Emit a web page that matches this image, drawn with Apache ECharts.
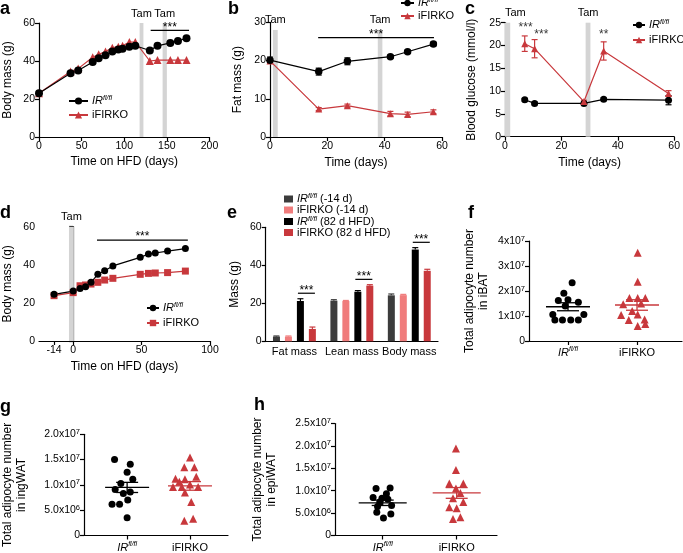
<!DOCTYPE html>
<html><head><meta charset="utf-8">
<script src="https://cdn.jsdelivr.net/npm/echarts@6/dist/echarts.min.js"></script>
<style>html,body{margin:0;padding:0;background:#fff}#c{width:683px;height:553px}</style>
</head><body><div id="c"></div>
<script>
// ---------- data ----------
// a
const aDays = [0,37,46,63,70,78,86,93,98,106,113,130,139,154,163,173];
const aIR   = [23,33.5,35,39.5,41.5,43,45,46,46.5,47.5,48,45.5,48,49.5,50.5,52];
const aKO   = [23,34.5,36,42,43.5,45,47,47.5,48,50,50,40,40.5,40.5,40.5,40.5];
const aTam  = [[118,122.5,60],[145,150,60]];
const aSig  = [[131,176,56.1,'***']];
// b
const bDays = [0,17,27,42,48,57];
const bIR = [20.1,17.1,19.8,21,22.3,24.3];
const bIRerr = [0.8,0.9,0.9,0.4,0.4,0.5];
const bKO = [19.9,7.3,8.2,6.1,5.9,6.6];
const bKOerr = [0.5,0.4,0.4,0.6,0.6,0.5];
const bTam = [[1,2.7,28],[37.6,39.2,28]];
const bSig = [[16.8,57.2,26,'***']];
// c
const cDays = [7,10.5,28,35,58];
const cIR = [8.1,7.3,7.3,8.2,8.0];
const cIRerr = [0.3,0.3,0.3,0.3,1.0];
const cKO = [20.4,19.3,7.7,18.8,9.5];
const cKOerr = [1.7,2.0,0.3,2.0,0.6];
const cTam = [[0,1.85,25],[28.6,30.3,25]];
const cStars = [[7.3,23.9,'***'],[12.9,22.4,'***'],[35,22.4,'**']];
// d
const dDays = [-14,0,5,9,13,18,23,29,49,55,60,69,82];
const dIR = [24.5,26.2,27.6,28.5,30.8,35,36.9,39.4,43.9,45.7,46.2,47.2,48.5];
const dKO = [23.8,25.4,29,29.4,29.9,30.8,32,32.9,35,35.5,35.7,35.9,36.7];
const dTam = [[-3.1,0.5,60]];
const dSig = [[17.4,83.8,53,'***']];
const dTicks = [-14,0,50,100];
// e
const eCats = ['Fat mass','Lean mass','Body mass'];
const eIR14 = [2.5,21.4,24.2], eIR14err = [0.3,0.5,0.7];
const eKO14 = [2.5,21.2,24.3], eKO14err = [0.3,0.3,0.4];
const eIR82 = [21.2,26.1,48.3], eIR82err = [1.2,0.6,1.0];
const eKO82 = [6.5,29.3,37.1], eKO82err = [1.0,0.5,0.8];
const eSig = [25.3,32.6,52.1];
// f (x10^7)
const fIRx = [1.06,0.94,0.86,1.0,1.15,0.96,0.78,1.23,0.81,0.92,1.04,1.15];
const fIRy = [2.33,1.91,1.62,1.65,1.55,1.40,1.06,1.06,0.84,0.84,0.84,0.84];
const fKOx = [2.01,2.01,1.89,2.01,2.12,1.80,2.06,1.93,1.77,2.01,1.88,2.11,2.01,2.12];
const fKOy = [3.53,2.37,1.72,1.72,1.72,1.47,1.50,1.20,1.04,1.06,0.84,0.86,0.60,0.68];
const fMean = [[1,1.37,0.16],[2,1.44,0.21]];
// g (x10^7)
const gIRx = [0.80,1.05,1.0,1.09,0.90,0.81,0.94,1.05,0.76,0.88,1.01,1.0];
const gIRy = [1.50,1.41,1.25,1.11,1.03,0.91,0.83,0.86,0.62,0.62,0.70,0.35];
const gKOx = [2.0,1.91,2.07,2.10,1.77,1.92,1.83,2.0,1.73,1.87,2.13,1.92,2.02,1.91,2.05];
const gKOy = [1.54,1.35,1.35,1.16,1.12,1.11,1.06,1.01,0.96,0.96,0.96,0.85,0.66,0.29,0.33];
const gMean = [[1,0.95,0.10],[2,0.98,0.085]];
// h (x10^7)
const hIRx = [0.91,1.10,1.05,0.87,0.99,1.07,0.96,1.12,0.93,0.92,1.11,1.01];
const hIRy = [1.05,1.06,0.93,0.85,0.83,0.81,0.75,0.67,0.65,0.52,0.48,0.39];
const hKOx = [1.99,1.99,1.90,2.09,1.99,2.05,1.95,2.09,1.90,2.0,1.95,2.05];
const hKOy = [1.94,1.46,1.16,1.16,1.05,0.95,0.83,0.75,0.63,0.61,0.37,0.41];
const hMean = [[1,0.73,0.06],[2,0.95,0.12]];

// ---------- style ----------
const F = '"Liberation Sans", Arial, Helvetica, sans-serif';
const RED = '#c8383c', PINK = '#f07c7c', DARK = '#3c3c3c', BAND = '#d4d4d4';
const STAR = 12;
const zip = (xs, ys) => xs.map((x, i) => [x, ys[i]]);
const errs = (xs, ys, es) => xs.map((x, i) => [x, ys[i] - es[i], ys[i] + es[i]]);

function errItem(cap) {
  return function (params, api) {
    const x = api.value(0), lo = api.value(1), hi = api.value(2);
    const a = api.coord([x, lo]), b = api.coord([x, hi]);
    const st = { stroke: api.visual('color'), lineWidth: 1.2 };
    return { type: 'group', children: [
      { type: 'line', shape: { x1: a[0], y1: a[1], x2: b[0], y2: b[1] }, style: st },
      { type: 'line', shape: { x1: a[0] - cap, y1: a[1], x2: a[0] + cap, y2: a[1] }, style: st },
      { type: 'line', shape: { x1: b[0] - cap, y1: b[1], x2: b[0] + cap, y2: b[1] }, style: st }
    ]};
  };
}
function bandItem(minX) {
  return function (params, api) {
    const x1 = api.value(0), x2 = api.value(1), top = api.value(2);
    const p1 = api.coord([x1, top]), p2 = api.coord([x2, 0]);
    const left = x1 <= minX;
    return { type: 'group', children: [
      { type: 'rect', shape: { x: p1[0], y: p1[1], width: p2[0] - p1[0], height: p2[1] - p1[1] }, style: { fill: BAND } },
      { type: 'text', style: { text: 'Tam', x: left ? p1[0] : (p1[0] + p2[0]) / 2, y: p1[1] - 4,
        align: left ? 'left' : 'center', verticalAlign: 'bottom', fontSize: 11, fontFamily: F, fill: '#000' } }
    ]};
  };
}
function sigItem(list) {
  return function (params, api) {
    const d = list[params.dataIndex];
    const a = api.coord([d[0], d[2]]), b = api.coord([d[1], d[2]]);
    return { type: 'group', children: [
      { type: 'line', shape: { x1: a[0], y1: a[1], x2: b[0], y2: b[1] }, style: { stroke: '#000', lineWidth: 1.2 } },
      { type: 'text', style: { text: d[3], x: (a[0] + b[0]) / 2, y: a[1] - 3, align: 'center', verticalAlign: 'middle',
        fontSize: STAR, fontFamily: F, fill: '#000' } }
    ]};
  };
}
function meanItem(hw, sw) {
  return function (params, api) {
    const x = api.value(0), m = api.value(1), s = api.value(2);
    const pm = api.coord([x, m]), pt = api.coord([x, m + s]), pb = api.coord([x, m - s]);
    const st = { stroke: api.visual('color'), lineWidth: 1.3 };
    return { type: 'group', children: [
      { type: 'line', shape: { x1: pm[0] - hw, y1: pm[1], x2: pm[0] + hw, y2: pm[1] }, style: st },
      { type: 'line', shape: { x1: pt[0], y1: pt[1], x2: pb[0], y2: pb[1] }, style: st },
      { type: 'line', shape: { x1: pt[0] - sw, y1: pt[1], x2: pt[0] + sw, y2: pt[1] }, style: st },
      { type: 'line', shape: { x1: pb[0] - sw, y1: pb[1], x2: pb[0] + sw, y2: pb[1] }, style: st }
    ]};
  };
}
// bar error bars / significance in e
const eOff = k => (k - 1.5) * 12;
function eErrItem(params, api) {
  const c = api.value(0), lo = api.value(1), hi = api.value(2), k = api.value(3);
  const a = api.coord([c, lo]), b = api.coord([c, hi]);
  const x = a[0] + eOff(k);
  const st = { stroke: api.visual('color'), lineWidth: 1.2 };
  return { type: 'group', children: [
    { type: 'line', shape: { x1: x, y1: a[1], x2: x, y2: b[1] }, style: st },
    { type: 'line', shape: { x1: x - 3, y1: b[1], x2: x + 3, y2: b[1] }, style: st }
  ]};
}
function eSigItem(params, api) {
  const c = api.value(0), y = api.value(1);
  const p = api.coord([c, y]);
  const x1 = p[0] + eOff(2) - 2.5, x2 = p[0] + eOff(3) + 2.5;
  return { type: 'group', children: [
    { type: 'line', shape: { x1: x1, y1: p[1], x2: x2, y2: p[1] }, style: { stroke: '#000', lineWidth: 1.2 } },
    { type: 'text', style: { text: '***', x: (x1 + x2) / 2, y: p[1] - 3, align: 'center', verticalAlign: 'middle', fontSize: STAR, fontFamily: F, fill: '#000' } }
  ]};
}

const lineAx = { lineStyle: { color: '#000', width: 1.2 } };
const tickAx = { length: 4, lineStyle: { color: '#000', width: 1.2 } };
const richSup = {
  n: { fontSize: 10.5, fontFamily: F, color: '#000', lineHeight: 13 },
  i: { fontSize: 11, fontFamily: F, color: '#000', fontStyle: 'italic', lineHeight: 14 },
  s: { fontSize: 7.5, fontFamily: F, color: '#000', verticalAlign: 'top', lineHeight: 8 },
  si: { fontSize: 7, fontFamily: F, color: '#000', fontStyle: 'italic', verticalAlign: 'top', lineHeight: 8 },
  t: { fontSize: 11, fontFamily: F, color: '#000', lineHeight: 14 }
};
function xVal(gi, min, max, interval, name, gap, extra) {
  return Object.assign({ type: 'value', gridIndex: gi, min, max, interval, name, nameLocation: 'middle', nameGap: gap,
    nameTextStyle: { fontSize: 12, fontFamily: F, color: '#000' },
    axisLine: lineAx, axisTick: tickAx, splitLine: { show: false },
    axisLabel: { fontSize: 10.5, fontFamily: F, color: '#000', margin: 4 } }, extra || {});
}
function yVal(gi, min, max, interval, name, gap, extra) {
  return Object.assign({ type: 'value', gridIndex: gi, min, max, interval, name, nameLocation: 'middle', nameGap: gap,
    nameTextStyle: { fontSize: 12, fontFamily: F, color: '#000', lineHeight: 14 },
    axisLine: { show: true, lineStyle: { color: '#000', width: 1.2 } }, axisTick: { show: true, length: 4, lineStyle: { color: '#000', width: 1.2 } },
    splitLine: { show: false },
    axisLabel: { fontSize: 10.5, fontFamily: F, color: '#000', margin: 4 } }, extra || {});
}
const supFmt7 = v => v === 0 ? '{n|0}' : '{n|' + v + 'x10}{s|7}';
const supFmt = v => v === 0 ? '{n|0}' : (v < 1 ? '{n|' + (v * 10).toFixed(1) + 'x10}{s|6}' : '{n|' + v.toFixed(1) + 'x10}{s|7}');
const catFmt = v => v === 1 ? '{i|IR}{si|fl/fl}' : '{t|iFIRKO}';

const legendNames = {
  aIR: '{i|IR}{si|fl/fl}', aKO: '{t|iFIRKO}', bIR: '{i|IR}{si|fl/fl}', bKO: '{t|iFIRKO}',
  cIR: '{i|IR}{si|fl/fl}', cKO: '{t|iFIRKO}', dIR: '{i|IR}{si|fl/fl}', dKO: '{t|iFIRKO}',
  eIR14: '{i|IR}{si|fl/fl}{t| (-14 d)}', eKO14: '{t|iFIRKO (-14 d)}',
  eIR82: '{i|IR}{si|fl/fl}{t| (82 d HFD)}', eKO82: '{t|iFIRKO (82 d HFD)}'
};
const legRich = {
  i: { fontSize: 11, fontFamily: F, color: '#000', fontStyle: 'italic', lineHeight: 12 },
  si: { fontSize: 7, fontFamily: F, color: '#000', fontStyle: 'italic', verticalAlign: 'top', lineHeight: 7 },
  t: { fontSize: 11, fontFamily: F, color: '#000', lineHeight: 12 }
};
function leg(names, left, top, w, h, gap, extra) {
  return Object.assign({ data: names, left, top, orient: 'vertical', itemWidth: w, itemHeight: h, itemGap: gap,
    padding: 0, itemStyle: { borderWidth: 0 }, formatter: n => legendNames[n], textStyle: { rich: legRich, padding: [0, 0, 0, -1] } }, extra || {});
}

function lineS(name, xi, data, color, symbol, size) {
  return { name, type: 'line', xAxisIndex: xi, yAxisIndex: xi, data, color, symbol, symbolSize: size,
    lineStyle: { width: 1.2, color }, itemStyle: { color }, z: 4, animation: false };
}
function errS(xi, data, color, cap) {
  return { type: 'custom', xAxisIndex: xi, yAxisIndex: xi, data, itemStyle: { color }, renderItem: errItem(cap),
    encode: { x: 0, y: [1, 2] }, z: 3, animation: false, silent: true };
}
function bandS(xi, data, minX) {
  return { type: 'custom', xAxisIndex: xi, yAxisIndex: xi, data, renderItem: bandItem(minX),
    encode: { x: [0, 1], y: 2 }, z: 1, animation: false, silent: true, clip: false };
}
function sigS(xi, list) {
  return { type: 'custom', xAxisIndex: xi, yAxisIndex: xi, data: list.map(d => [d[0], d[1], d[2]]), renderItem: sigItem(list),
    encode: { x: [0, 1], y: 2 }, z: 2, animation: false, silent: true, clip: false };
}
function scatS(xi, xs, ys, color, symbol, size) {
  return { type: 'scatter', xAxisIndex: xi, yAxisIndex: xi, data: zip(xs, ys), symbol, symbolSize: size,
    itemStyle: { color, opacity: 1 }, z: 3, animation: false };
}
function meanS(xi, data, color, hw, sw) {
  return { type: 'custom', xAxisIndex: xi, yAxisIndex: xi, data, itemStyle: { color }, renderItem: meanItem(hw, sw),
    encode: { x: 0, y: 1 }, z: 4, animation: false, silent: true };
}

const chart = echarts.init(document.getElementById('c'), null, { renderer: 'canvas' });
const series = [
  // a (axis 0)
  bandS(0, aTam, 0), sigS(0, aSig),
  lineS('aKO', 0, zip(aDays, aKO), RED, 'triangle', 8),
  lineS('aIR', 0, zip(aDays, aIR), '#000', 'circle', 8),
  // b (axis 1)
  bandS(1, bTam, 0), sigS(1, bSig),
  errS(1, errs(bDays, bKO, bKOerr), RED, 3), errS(1, errs(bDays, bIR, bIRerr), '#000', 3),
  lineS('bKO', 1, zip(bDays, bKO), RED, 'triangle', 7),
  lineS('bIR', 1, zip(bDays, bIR), '#000', 'circle', 7.5),
  // c (axis 2)
  bandS(2, cTam, 0),
  errS(2, errs(cDays, cKO, cKOerr), RED, 3), errS(2, errs(cDays, cIR, cIRerr), '#000', 3),
  lineS('cIR', 2, zip(cDays, cIR), '#000', 'circle', 7),
  lineS('cKO', 2, zip(cDays, cKO), RED, 'triangle', 7),
  { type: 'scatter', xAxisIndex: 2, yAxisIndex: 2, data: cStars.map(s => [s[0], s[1]]), symbolSize: 0, animation: false, silent: true,
    label: { show: true, position: 'inside', formatter: p => cStars[p.dataIndex][2], fontSize: STAR, fontFamily: F, color: '#000' } },
  // d (axis 3)
  bandS(3, dTam, -25), sigS(3, dSig),
  lineS('dKO', 3, zip(dDays, dKO), RED, 'rect', 7),
  lineS('dIR', 3, zip(dDays, dIR), '#000', 'circle', 7),
  // e (axis 4)
  { name: 'eIR14', type: 'bar', xAxisIndex: 4, yAxisIndex: 4, data: eIR14, color: DARK, barWidth: 7, barGap: '71%', animation: false },
  { name: 'eKO14', type: 'bar', xAxisIndex: 4, yAxisIndex: 4, data: eKO14, color: PINK, barWidth: 7, barGap: '71%', animation: false },
  { name: 'eIR82', type: 'bar', xAxisIndex: 4, yAxisIndex: 4, data: eIR82, color: '#000', barWidth: 7, barGap: '71%', animation: false },
  { name: 'eKO82', type: 'bar', xAxisIndex: 4, yAxisIndex: 4, data: eKO82, color: RED, barWidth: 7, barGap: '71%', animation: false },
  { type: 'custom', xAxisIndex: 4, yAxisIndex: 4, itemStyle: { color: DARK }, renderItem: eErrItem, encode: { x: 0, y: [1, 2] }, animation: false, silent: true, z: 3,
    data: eIR14.map((v, i) => [i, v, v + eIR14err[i], 0]) },
  { type: 'custom', xAxisIndex: 4, yAxisIndex: 4, itemStyle: { color: PINK }, renderItem: eErrItem, encode: { x: 0, y: [1, 2] }, animation: false, silent: true, z: 3,
    data: eKO14.map((v, i) => [i, v, v + eKO14err[i], 1]) },
  { type: 'custom', xAxisIndex: 4, yAxisIndex: 4, itemStyle: { color: '#000' }, renderItem: eErrItem, encode: { x: 0, y: [1, 2] }, animation: false, silent: true, z: 3,
    data: eIR82.map((v, i) => [i, v, v + eIR82err[i], 2]) },
  { type: 'custom', xAxisIndex: 4, yAxisIndex: 4, itemStyle: { color: RED }, renderItem: eErrItem, encode: { x: 0, y: [1, 2] }, animation: false, silent: true, z: 3,
    data: eKO82.map((v, i) => [i, v, v + eKO82err[i], 3]) },
  { type: 'custom', xAxisIndex: 4, yAxisIndex: 4, renderItem: eSigItem, encode: { x: 0, y: 1 }, animation: false, silent: true, z: 3,
    data: eSig.map((v, i) => [i, v]) },
  // f (axis 5)
  scatS(5, fIRx, fIRy, '#000', 'circle', 7), scatS(5, fKOx, fKOy, RED, 'triangle', 8),
  meanS(5, [fMean[0]], '#000', 22, 11), meanS(5, [fMean[1]], RED, 22, 11),
  // g (axis 6)
  scatS(6, gIRx, gIRy, '#000', 'circle', 7), scatS(6, gKOx, gKOy, RED, 'triangle', 8),
  meanS(6, [gMean[0]], '#000', 22, 11), meanS(6, [gMean[1]], RED, 22, 11),
  // h (axis 7)
  scatS(7, hIRx, hIRy, '#000', 'circle', 7), scatS(7, hKOx, hKOy, RED, 'triangle', 8),
  meanS(7, [hMean[0]], '#000', 24, 11), meanS(7, [hMean[1]], RED, 24, 11)
];

const letters = [['a',0,0],['b',228,0],['c',465,0],['d',0,204],['e',227,204],['f',468,204],['g',0,398],['h',254,396]];

chart.setOption({
  backgroundColor: '#fff',
  animation: false,
  textStyle: { fontFamily: F },
  grid: [
    { left: 38, top: 23, width: 171.5, height: 114 },
    { left: 270, top: 22.3, width: 172, height: 114.7 },
    { left: 505, top: 22.7, width: 172.7, height: 114 },
    { left: 38, top: 226.7, width: 172, height: 114.3 },
    { left: 265.7, top: 227.3, width: 172.3, height: 114 },
    { left: 529, top: 241, width: 153, height: 100 },
    { left: 77.7, top: 434.3, width: 150.3, height: 102.4 },
    { left: 335, top: 423.5, width: 162, height: 113.5 }
  ],
  xAxis: [
    xVal(0, 0, 200, 50, 'Time on HFD (days)', 19),
    xVal(1, 0, 60, 20, 'Time (days)', 20),
    xVal(2, 0, 60, 20, 'Time (days)', 20),
    xVal(3, -25, 100, 25, 'Time on HFD (days)', 20, {
      axisLabel: { customValues: dTicks, fontSize: 10.5, fontFamily: F, color: '#000', margin: 4 },
      axisTick: { customValues: dTicks, length: 4, lineStyle: { color: '#000', width: 1.2 } } }),
    { type: 'category', gridIndex: 4, data: eCats, axisLine: lineAx, axisTick: { show: false },
      axisLabel: { fontSize: 11, fontFamily: F, color: '#000', margin: 5, interval: 0 } },
    xVal(5, 0.435, 2.652, 1, '', 0, { axisLabel: { customValues: [1, 2], formatter: catFmt, rich: richSup, margin: 5 },
      axisTick: { customValues: [1, 2], length: 4, lineStyle: { color: '#000', width: 1.2 } } }),
    xVal(6, 0.314, 2.605, 1, '', 0, { axisLabel: { customValues: [1, 2], formatter: catFmt, rich: richSup, margin: 5 },
      axisTick: { customValues: [1, 2], length: 4, lineStyle: { color: '#000', width: 1.2 } } }),
    xVal(7, 0.355, 2.545, 1, '', 0, { axisLabel: { customValues: [1, 2], formatter: catFmt, rich: richSup, margin: 5 },
      axisTick: { customValues: [1, 2], length: 4, lineStyle: { color: '#000', width: 1.2 } } })
  ],
  yAxis: [
    yVal(0, 0, 60, 20, 'Body mass (g)', 24),
    yVal(1, 0, 30, 10, 'Fat mass (g)', 25),
    yVal(2, 0, 25, 5, 'Blood glucose (mmol/l)', 26),
    yVal(3, 0, 60, 20, 'Body mass (g)', 24),
    yVal(4, 0, 60, 20, 'Mass (g)', 24),
    yVal(5, 0, 4, 1, 'Total adipocyte number\nin iBAT', 38, { axisLabel: { formatter: supFmt7, rich: richSup, margin: 4 } }),
    yVal(6, 0, 2, 0.5, 'Total adipocyte number\nin ingWAT', 55, { axisLabel: { formatter: supFmt, rich: richSup, margin: 4 } }),
    yVal(7, 0, 2.5, 0.5, 'Total adipocyte number\nin epiWAT', 56, { axisLabel: { formatter: supFmt, rich: richSup, margin: 4 } })
  ],
  legend: [
    leg(['aIR', 'aKO'], 68, 95, 19, 9, 3),
    leg(['bIR', 'bKO'], 400, -3, 13, 8, 2),
    leg(['cIR', 'cKO'], 632, 19, 12, 8, 4),
    leg(['dIR', 'dKO'], 146, 302, 12, 8, 4),
    leg(['eIR14', 'eKO14', 'eIR82', 'eKO82'], 284, 193, 9, 7, 0, { icon: 'rect' })
  ],
  graphic: letters.map(l => ({ type: 'text', left: l[1], top: l[2], style: { text: l[0], font: 'bold 18px ' + F, fill: '#000' } })),
  series
});
</script></body></html>
